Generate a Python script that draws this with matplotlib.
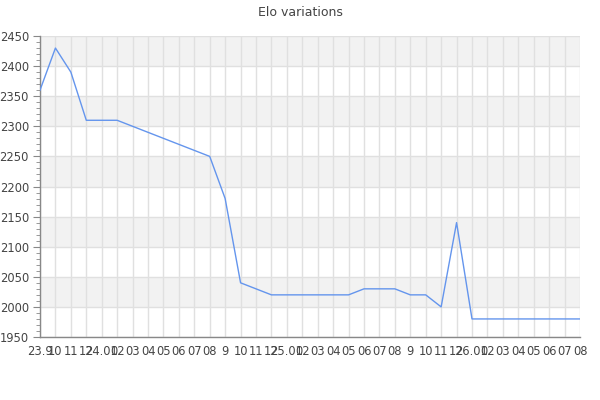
import matplotlib
matplotlib.use("Agg")
import matplotlib.pyplot as plt
from matplotlib.ticker import MultipleLocator

labels = ["23.9", "10", "11", "12", "24.01", "02", "03", "04", "05", "06", "07", "08",
          "9", "10", "11", "12", "25.01", "02", "03", "04", "05", "06", "07", "08",
          "9", "10", "11", "12", "26.01", "02", "03", "04", "05", "06", "07", "08"]
elo = [2360, 2430, 2390, 2310, 2310, 2310, 2300, 2290, 2280, 2270, 2260, 2250,
       2180, 2040, 2030, 2020, 2020, 2020, 2020, 2020, 2020, 2030, 2030, 2030,
       2020, 2020, 2000, 2140, 1980, 1980, 1980, 1980, 1980, 1980, 1980, 1980]
title = "Elo variations"

fig = plt.figure(figsize=(6, 4), dpi=100)
ax = fig.add_axes([40/600, 63/400, 540/600, 301/400])

ymin, ymax = 1950, 2450
ax.set_ylim(ymin, ymax)
ax.set_xlim(0, len(labels) - 1)

# alternating bands
for i, y0 in enumerate(range(ymin, ymax, 50)):
    if i % 2 == 1:
        ax.axhspan(y0, y0 + 50, color="#f2f2f2", zorder=0, lw=0)

x = list(range(len(labels)))
for xi in x:
    ax.axvline(xi, color="#e0e0e0", lw=1, zorder=1)
for yv in range(ymin, ymax + 1, 50):
    ax.axhline(yv, color="#e0e0e0", lw=1, zorder=1)

ax.plot(x, elo, color="#6495ed", lw=1, zorder=3)

ax.set_xticks(x)
ax.set_xticklabels(labels)
ax.yaxis.set_major_locator(MultipleLocator(50))
ax.yaxis.set_minor_locator(MultipleLocator(10))
ax.tick_params(axis="x", length=0, pad=6, labelsize=8.3, colors="#444444")
ax.tick_params(axis="y", which="major", length=5, color="#888888", labelsize=8.3, labelcolor="#444444", pad=3)
ax.tick_params(axis="y", which="minor", length=3, color="#888888")

for s in ["top", "right"]:
    ax.spines[s].set_visible(False)
for s in ["left", "bottom"]:
    ax.spines[s].set_color("#888888")
    ax.spines[s].set_linewidth(1)

fig.suptitle(title, y=0.985, fontsize=9, color="#444444")
fig.savefig("out.png", dpi=100)
